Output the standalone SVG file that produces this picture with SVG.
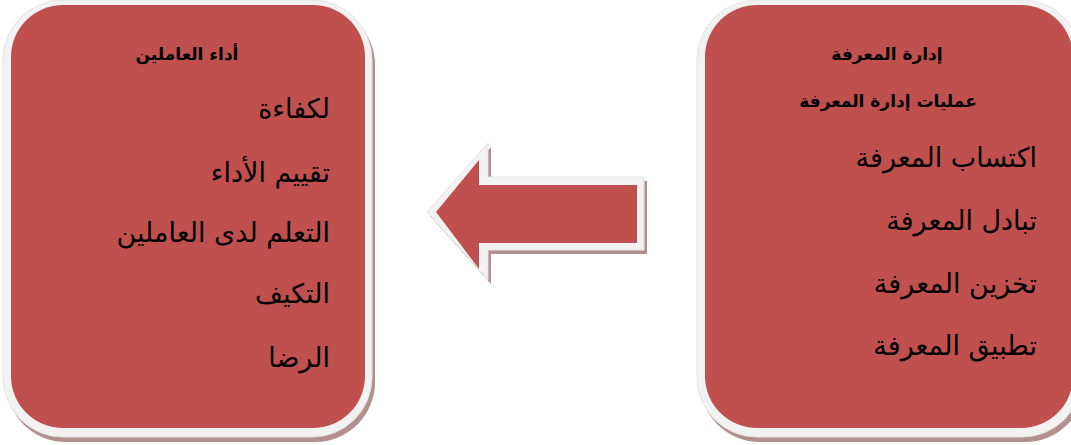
<svg xmlns="http://www.w3.org/2000/svg" width="1071" height="445" viewBox="0 0 1071 445">
<style>
.shadow{fill:#b38f8e}
.rim{fill:#f2f2f2;stroke:#e4e4e4;stroke-width:1}
.body{fill:#c0504d}
.title{font-family:"DejaVu Sans",sans-serif;font-size:17px;font-weight:bold;fill:#000;text-anchor:middle}
.item{font-family:"DejaVu Sans",sans-serif;font-size:27px;fill:#000;text-anchor:end}
</style>
<rect width="1071" height="445" fill="#ffffff"/>
<g id="performance">
<rect class="shadow" x="6" y="5" width="369" height="437" rx="60"/>
<rect class="rim" x="3" y="0" width="369" height="437" rx="60"/>
<rect class="body" x="11" y="5" width="354" height="423" rx="52"/>
<text class="title" x="187" y="60">أداء العاملين</text>
<text class="item" x="330" y="118">لكفاءة</text>
<text class="item" x="330" y="182">تقييم الأداء</text>
<text class="item" x="330" y="242">التعلم لدى العاملين</text>
<text class="item" x="330" y="303">التكيف</text>
<text class="item" x="330" y="367">الرضا</text>
</g>
<g id="knowledge">
<rect class="shadow" x="700" y="5" width="385" height="437" rx="60"/>
<rect class="rim" x="697" y="0" width="385" height="437" rx="60"/>
<rect class="body" x="705" y="5" width="368" height="423" rx="52"/>
<text class="title" x="887" y="60">إدارة المعرفة</text>
<text class="title" x="888" y="107">عمليات إدارة المعرفة</text>
<text class="item" x="1037" y="167">اكتساب المعرفة</text>
<text class="item" x="1037" y="230">تبادل المعرفة</text>
<text class="item" x="1037" y="293">تخزين المعرفة</text>
<text class="item" x="1037" y="355">تطبيق المعرفة</text>
</g>
<g id="connectors">
<polygon class="shadow" points="430,216 491,147 491,181 647,181 647,254 491,254 491,284"/>
<polygon class="rim" points="427,212 488,143 488,177 644,177 644,250 488,250 488,280"/>
<polygon class="body" points="436,212 479,160 479,185 637,185 637,243 479,243 479,269"/>
</g>
</svg>
